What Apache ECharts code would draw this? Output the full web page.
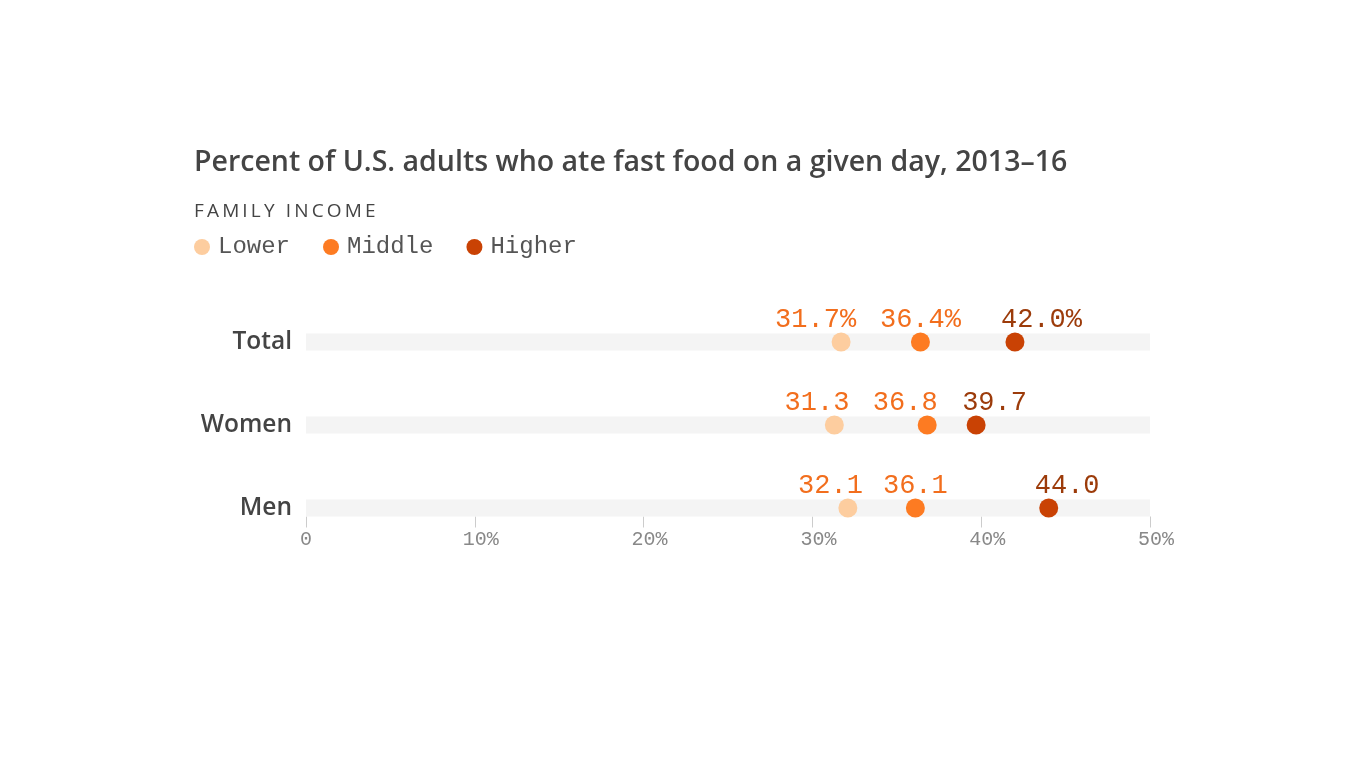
<!DOCTYPE html>
<html><head><meta charset="utf-8">
<script src="https://cdn.jsdelivr.net/npm/echarts@6/dist/echarts.min.js"></script>
<style>html,body{margin:0;padding:0;background:#fff}#c{width:1366px;height:768px}</style>
</head><body><div id="c"></div>
<script>
const categories = ['Men', 'Women', 'Total'];
const lowerValues = [32.1, 31.3, 31.7];
const middleValues = [36.1, 36.8, 36.4];
const higherValues = [44.0, 39.7, 42.0];
const seriesNames = ['Lower', 'Middle', 'Higher'];
const xTicks = [0, 10, 20, 30, 40, 50];

const dotColors = ['#fdcd9f', '#fd7b22', '#c94204'];
const labelColors = ['#f26e1d', '#f26e1d', '#9c3b0a'];

function fmt(v, i) {
  const s = v.toFixed(1);
  return categories[i] === 'Total' ? s + '%' : s;
}

const chart = echarts.init(document.getElementById('c'));
const mono = '"Liberation Mono", "DejaVu Sans Mono", monospace';
const sans = '"Open Sans", "Noto Sans", sans-serif';

function dotSeries(name, vals, idx) {
  return {
    name: name,
    type: 'scatter',
    symbol: 'circle',
    symbolSize: 19,
    z: 5,
    itemStyle: { color: dotColors[idx], opacity: 1 },
    data: vals.map((v, i) => {
      let lab = {};
      if (idx === 0) lab = { align: 'right', offset: [15, 0] };
      if (idx === 2) lab = { align: 'left', offset: [-14, 0] };
      if (idx === 1 && categories[i] === 'Women') lab = { offset: [-22, 0] };
      return { value: [v, i], label: lab };
    }),
    label: {
      show: true,
      position: 'top',
      distance: -1,
      fontFamily: mono,
      fontSize: 27,
      color: labelColors[idx],
      formatter: p => fmt(p.value[0], p.value[1])
    }
  };
}

const spaced = s => s.split('').join('\u2009');

chart.setOption({
  animation: false,
  title: {
    text: 'Percent of U.S. adults who ate fast food on a given day, 2013–16',
    left: 189, top: 143,
    textStyle: { fontFamily: sans, fontSize: 28.5, fontWeight: 600, color: '#444' }
  },
  graphic: [{
    type: 'text', left: 194, top: 202,
    style: { text: spaced('FAMILY INCOME'), fontFamily: sans, fontSize: 19, fill: '#444' }
  }],
  legend: {
    left: 189, top: 230,
    icon: 'circle', itemWidth: 16, itemHeight: 16, itemGap: 33,
    data: seriesNames,
    textStyle: { fontFamily: mono, fontSize: 24, color: '#555', padding: [0, 0, 0, 3] }
  },
  grid: { left: 306, right: 216, top: 300.5, height: 249, containLabel: false },
  xAxis: {
    type: 'value', min: 0, max: 50, interval: 10,
    offset: -33,
    axisLine: { show: false },
    axisTick: { show: true, length: 11, lineStyle: { color: '#ccc' } },
    splitLine: { show: false },
    axisLabel: {
      fontFamily: mono, fontSize: 20, color: '#888', margin: 13,
      formatter: v => (v === 0 ? '0' : '{p|' + v + '%}'),
      rich: { p: { fontFamily: mono, fontSize: 20, color: '#888', padding: [0, 0, 0, 12] } }
    }
  },
  yAxis: {
    type: 'category', data: categories,
    axisLine: { show: false }, axisTick: { show: false },
    axisLabel: { fontFamily: sans, fontSize: 24.5, color: '#444', margin: 14, fontWeight: 600 }
  },
  series: [
    {
      type: 'bar', silent: true, barWidth: 17, z: 1,
      itemStyle: { color: '#f4f4f4' },
      data: categories.map(() => 50)
    },
    dotSeries(seriesNames[0], lowerValues, 0),
    dotSeries(seriesNames[1], middleValues, 1),
    dotSeries(seriesNames[2], higherValues, 2)
  ]
});
</script>
</body></html>
